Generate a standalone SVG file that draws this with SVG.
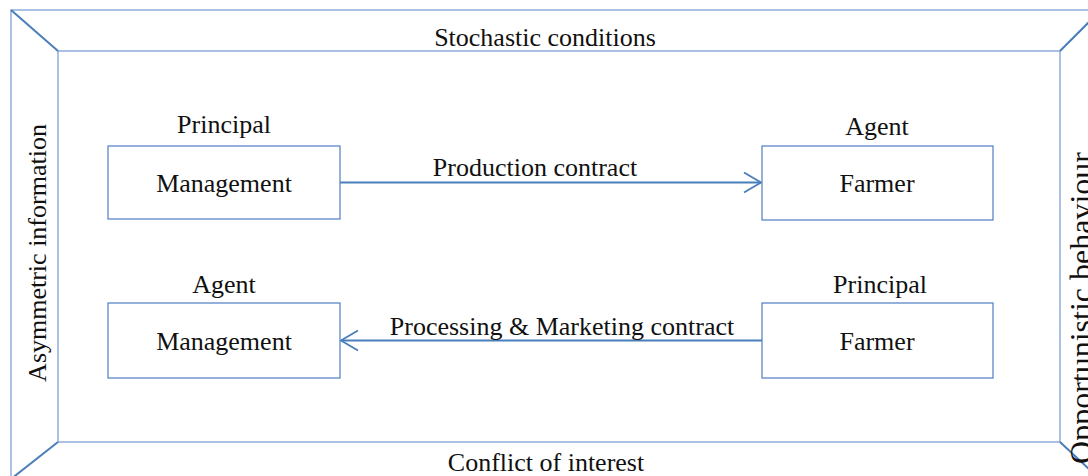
<svg xmlns="http://www.w3.org/2000/svg" width="1088" height="476" viewBox="0 0 1088 476">
<style>
.frame{fill:none;stroke:#7FA0D4;stroke-width:1.3}
.diag{fill:none;stroke:#4A7EBB;stroke-width:2}
.box{fill:#fff;stroke:#5B86C8;stroke-width:1.3}
.conn{fill:none;stroke:#4A7EBB;stroke-width:1.8}
.t{font-family:"Liberation Serif","Times New Roman",serif;font-size:26px;fill:#111;text-anchor:middle}
</style>
<defs>
<marker id="open" markerWidth="20" markerHeight="24" refX="18" refY="11" orient="auto" markerUnits="userSpaceOnUse">
<path d="M1,1 L18,11 L1,21" fill="none" stroke="#4A7EBB" stroke-width="1.8"/>
</marker>
</defs>
<rect width="1088" height="476" fill="#fff"/>
<g id="frame">
<rect class="frame" x="11" y="10" width="1096" height="473"/>
<rect class="frame" x="58" y="51" width="1002" height="391"/>
<line class="diag" x1="11" y1="10" x2="58" y2="51"/>
<line class="diag" x1="1060" y1="51" x2="1107" y2="4"/>
<line class="diag" x1="58" y1="442" x2="11" y2="479"/>
<line class="diag" x1="1060" y1="442" x2="1107" y2="486"/>
<text class="t" x="545" y="46">Stochastic conditions</text>
<text class="t" x="546" y="471">Conflict of interest</text>
<text class="t" transform="translate(46,253) rotate(-90)">Asymmetric information</text>
<text class="t" transform="translate(1092,308) rotate(-90)" style="font-size:32px">Opportunistic behaviour</text>
</g>
<g id="connectors">
<line class="conn" x1="340" y1="182.5" x2="761" y2="182.5" marker-end="url(#open)"/>
<line class="conn" x1="762" y1="340.5" x2="341" y2="340.5" marker-end="url(#open)"/>
<text class="t" x="535" y="176">Production contract</text>
<text class="t" x="562" y="335">Processing &amp; Marketing contract</text>
</g>
<g id="node-management-principal">
<text class="t" x="224" y="133">Principal</text>
<rect class="box" x="108" y="146" width="232" height="73"/>
<text class="t" x="224" y="192">Management</text>
</g>
<g id="node-farmer-agent">
<text class="t" x="877" y="135">Agent</text>
<rect class="box" x="762" y="146" width="231" height="74"/>
<text class="t" x="877" y="192">Farmer</text>
</g>
<g id="node-management-agent">
<text class="t" x="224" y="293">Agent</text>
<rect class="box" x="108" y="303" width="232" height="75"/>
<text class="t" x="224" y="350">Management</text>
</g>
<g id="node-farmer-principal">
<text class="t" x="880" y="293">Principal</text>
<rect class="box" x="762" y="303" width="231" height="75"/>
<text class="t" x="877" y="350">Farmer</text>
</g>
</svg>
